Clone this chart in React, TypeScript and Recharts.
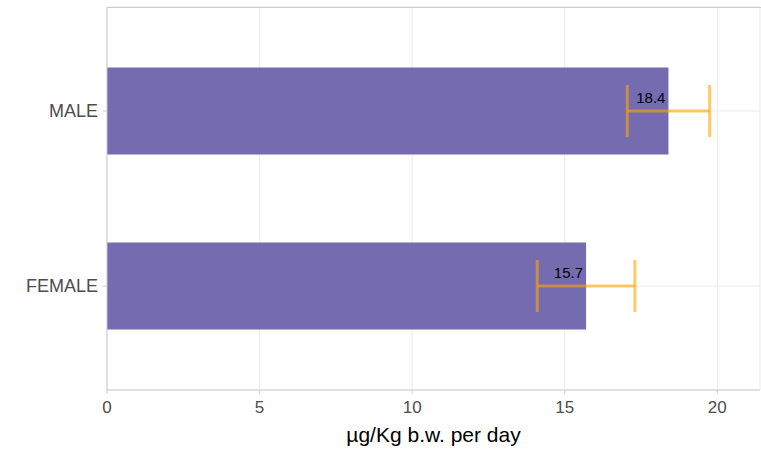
import React from 'react';
import { BarChart, Bar, XAxis, YAxis, CartesianGrid, ErrorBar, LabelList } from 'recharts';

const categories = ['MALE', 'FEMALE'];
const means = [18.4, 15.7];
const errors = [1.35, 1.6];
const xTicks = [0, 5, 10, 15, 20];

const data = categories.map((sex, i) => ({ sex, value: means[i], err: errors[i] }));

const FONT = '"Liberation Sans", Arial, sans-serif';

const renderValueLabel = (props: any) => {
  const { x, y, width, height, value } = props;
  return (
    <text
      x={x + width - 3}
      y={y + height / 2 - 8}
      textAnchor="end"
      fontSize={15}
      fontFamily={FONT}
      fill="#000"
    >
      {value}
    </text>
  );
};

const App: React.FC = () => {
  return (
    <div style={{ position: 'absolute', left: 0, top: 0, width: 761, height: 450, background: '#fff' }}>
      <BarChart
        width={761}
        height={450}
        data={data}
        layout="vertical"
        margin={{ top: 7, right: 1, left: 0, bottom: 0 }}
      >
        <CartesianGrid stroke="#ebebeb" strokeWidth={1} />
        <XAxis
          type="number"
          domain={[0, 21.4]}
          ticks={xTicks}
          allowDataOverflow
          height={60}
          tick={{ fill: '#4d4d4d', fontSize: 17, fontFamily: FONT }}
          tickSize={4}
          tickMargin={7}
          stroke="#cccccc"
          label={{ value: 'µg/Kg b.w. per day', position: 'insideBottom', offset: 8, fill: '#000', fontSize: 21, fontFamily: FONT }}
        />
        <YAxis
          type="category"
          dataKey="sex"
          width={107}
          padding={{ top: 16.5, bottom: 16.5 }}
          tick={{ fill: '#4d4d4d', fontSize: 18, fontFamily: FONT }}
          tickSize={4}
          tickMargin={5}
          stroke="#cccccc"
        />
        <Bar dataKey="value" fill="#756bb1" barSize={87} isAnimationActive={false}>
          <ErrorBar dataKey="err" direction="x" width={26} stroke="orange" strokeOpacity={0.6} strokeWidth={3} />
          <LabelList dataKey="value" content={renderValueLabel} />
        </Bar>
      </BarChart>
      {/* panel border, top edge */}
      <div style={{ position: 'absolute', left: 107, top: 6.5, width: 654, height: 0, borderTop: '1px solid #cccccc' }} />
    </div>
  );
};

export default App;
